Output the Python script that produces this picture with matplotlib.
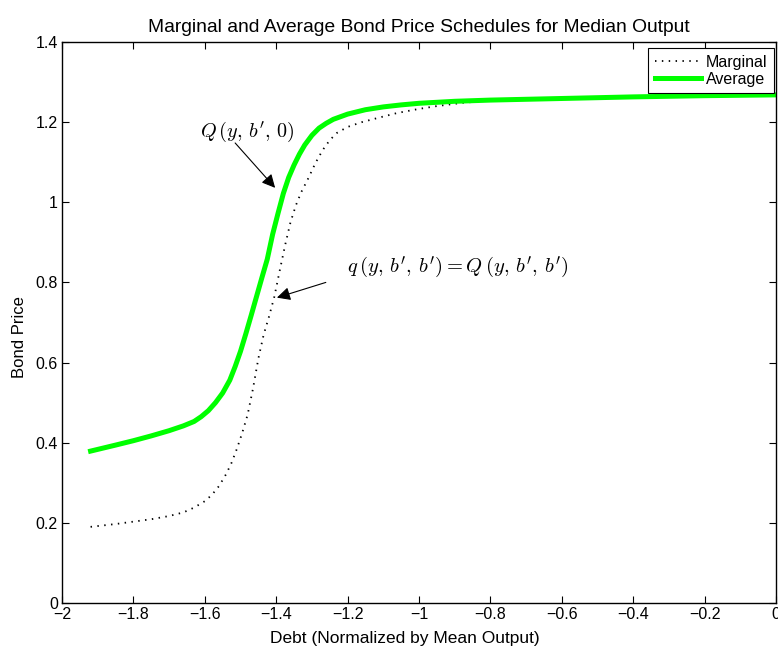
import matplotlib
matplotlib.use("Agg")
import matplotlib.pyplot as plt

plt.rcParams['font.family'] = ['Liberation Sans', 'DejaVu Sans']
plt.rcParams['mathtext.fontset'] = 'cm'

# Debt grid and bond prices
debt_avg = [-1.92, -1.85, -1.80, -1.75, -1.70, -1.66, -1.63, -1.61, -1.59, -1.57,
            -1.55, -1.53, -1.515, -1.50, -1.485, -1.47, -1.455, -1.44, -1.425, -1.41,
            -1.395, -1.38, -1.365, -1.35, -1.335, -1.32, -1.30, -1.28, -1.26, -1.24,
            -1.20, -1.15, -1.10, -1.05, -1.00, -0.90, -0.80, -0.60, -0.40, -0.20, 0.00]
price_avg = [0.379, 0.394, 0.405, 0.417, 0.430, 0.442, 0.453, 0.465, 0.480, 0.500,
             0.524, 0.556, 0.590, 0.628, 0.672, 0.718, 0.765, 0.812, 0.858, 0.920,
             0.972, 1.022, 1.062, 1.093, 1.120, 1.143, 1.167, 1.185, 1.197, 1.207,
             1.220, 1.231, 1.238, 1.243, 1.247, 1.252, 1.255, 1.259, 1.263, 1.266, 1.268]

debt_marg = [-1.92, -1.85, -1.80, -1.75, -1.70, -1.66, -1.63, -1.60, -1.58, -1.56,
             -1.54, -1.525, -1.51, -1.495, -1.48, -1.465, -1.45, -1.435, -1.42, -1.405,
             -1.39, -1.375, -1.36, -1.345, -1.33, -1.31, -1.29, -1.27, -1.25, -1.23,
             -1.20, -1.16, -1.10, -1.06, -1.00, -0.95, -0.88, -0.80, -0.60, -0.40,
             -0.20, 0.00]
price_marg = [0.190, 0.197, 0.203, 0.209, 0.217, 0.226, 0.238, 0.254, 0.270, 0.292,
              0.322, 0.350, 0.385, 0.425, 0.470, 0.535, 0.610, 0.670, 0.715, 0.765,
              0.830, 0.893, 0.950, 0.992, 1.025, 1.060, 1.098, 1.130, 1.155, 1.173,
              1.188, 1.200, 1.214, 1.223, 1.233, 1.240, 1.248, 1.254, 1.259, 1.263,
              1.266, 1.268]

xticks = [-2, -1.8, -1.6, -1.4, -1.2, -1, -0.8, -0.6, -0.4, -0.2, 0]
xticklabels = ['\u22122', '\u22121.8', '\u22121.6', '\u22121.4', '\u22121.2', '\u22121',
               '\u22120.8', '\u22120.6', '\u22120.4', '\u22120.2', '0']
yticks = [0, 0.2, 0.4, 0.6, 0.8, 1, 1.2, 1.4]
yticklabels = ['0', '0.2', '0.4', '0.6', '0.8', '1', '1.2', '1.4']

fig = plt.figure(figsize=(7.78, 6.46), dpi=100)
ax = fig.add_axes([0.0797, 0.0666, 0.9177, 0.8684])

ax.plot(debt_marg, price_marg, color='black', linestyle=(0, (0.8, 3.0)),
        linewidth=1.3, label='Marginal')
ax.plot(debt_avg, price_avg, color='#00ff00', linewidth=3.6, label='Average')

ax.set_xlim(-2, 0)
ax.set_ylim(0, 1.4)
ax.set_xticks(xticks)
ax.set_xticklabels(xticklabels)
ax.set_yticks(yticks)
ax.set_yticklabels(yticklabels)
ax.tick_params(direction='in', top=True, right=True, labelsize=11.5, length=5, pad=3)
for s in ax.spines.values():
    s.set_linewidth(1.0)

ax.set_title('Marginal and Average Bond Price Schedules for Median Output',
             fontsize=13.9, pad=7)
ax.set_xlabel('Debt (Normalized by Mean Output)', fontsize=12.5)
ax.xaxis.set_label_coords(0.48, -0.05)
ax.set_ylabel('Bond Price', fontsize=12)
ax.yaxis.set_label_coords(-0.049, 0.474)

# labels for the two schedules, with arrows
ax.text(-1.482, 1.176, r"$Q\,(y,\, b',\, 0)$", fontsize=14.5, ha='center', va='center')
ax.annotate('', xy=(-1.403, 1.036), xytext=(-1.515, 1.148),
            arrowprops=dict(arrowstyle='-|>', color='black', lw=0.8,
                            mutation_scale=20, shrinkA=0, shrinkB=0))
ax.text(-0.891, 0.837, r"$q\,(y,\, b',\, b') = Q\,(y,\, b',\, b')$", fontsize=14.8,
        ha='center', va='center')
ax.annotate('', xy=(-1.398, 0.762), xytext=(-1.261, 0.80),
            arrowprops=dict(arrowstyle='-|>', color='black', lw=0.8,
                            mutation_scale=20, shrinkA=0, shrinkB=0))

leg = ax.legend(loc='upper right', bbox_to_anchor=(0.997, 0.989), fontsize=11.5,
                fancybox=False, framealpha=1, edgecolor='black', borderaxespad=0,
                handlelength=2.9, borderpad=0.4, labelspacing=0.15, handletextpad=0.3)
leg.get_frame().set_linewidth(0.8)

fig.savefig('out.png', dpi=100)
